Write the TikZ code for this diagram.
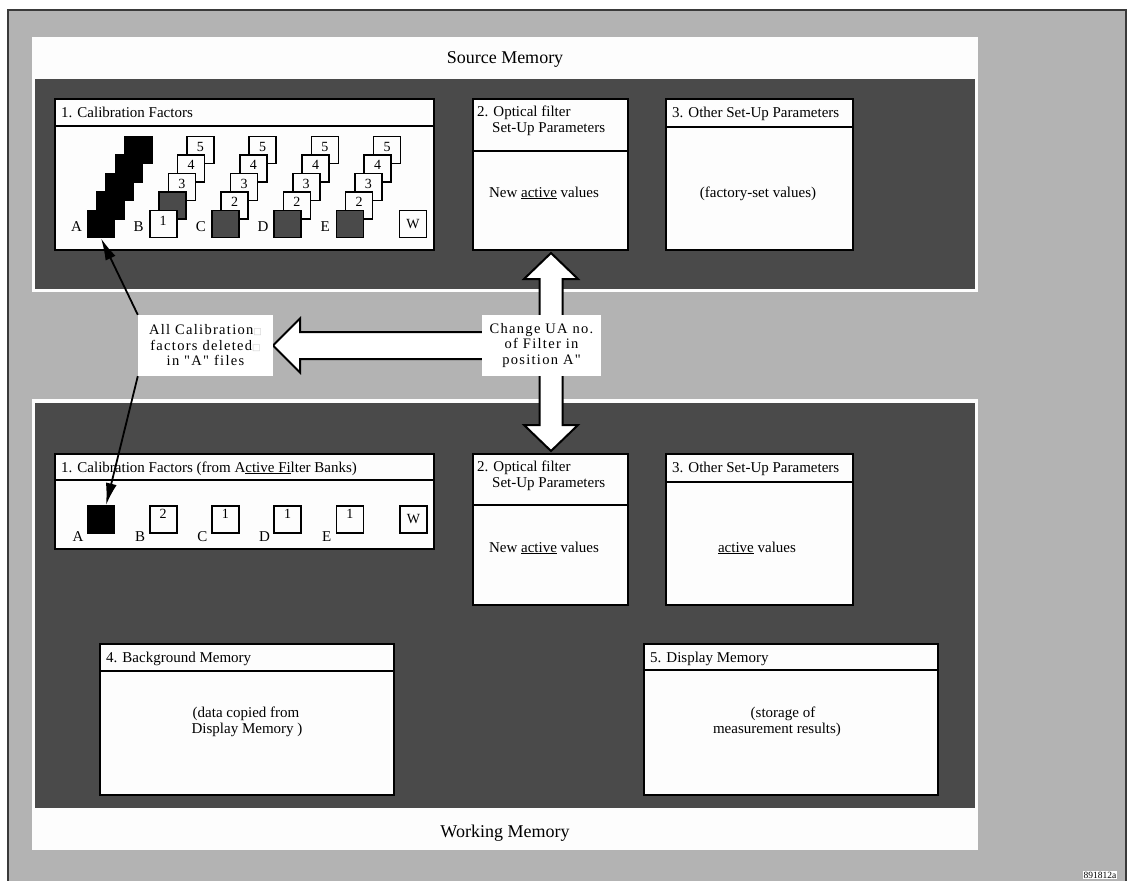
\documentclass[tikz,border=0pt]{standalone}
\usepackage{fontspec}
\setmainfont{Liberation Serif}
\newfontfamily\spacedfont{Liberation Serif}[LetterSpace=9]
\newfontfamily\symfont{DejaVu Sans}
\usetikzlibrary{arrows.meta,calc}
\definecolor{bggray}{HTML}{B3B3B3}
\definecolor{darkpanel}{HTML}{4A4A4A}
\definecolor{offwhite}{HTML}{FDFDFD}
\definecolor{framecol}{HTML}{3A3A3A}
\newcommand\gbox{{\symfont\fontsize{9}{9}\selectfont\color{black!20}□}}
\tikzset{
  panelbox/.style={draw=black, line width=2pt, fill=offwhite, inner sep=0pt, anchor=north west},
  sepline/.style={draw=black, line width=2pt},
  sq/.style={draw=black, line width=1.6pt, fill=offwhite, minimum size=27pt, inner sep=0pt,
             font=\fontsize{14}{14}\selectfont},
  num/.style={anchor=base, inner sep=0pt, font=\fontsize{14}{14}\selectfont},
  letter/.style={anchor=base, inner sep=0pt, font=\fontsize{15}{15}\selectfont},
  ttl/.style={anchor=base west, inner sep=0pt, font=\fontsize{15}{17}\selectfont},
  bodytxt/.style={anchor=base, inner sep=0pt, font=\fontsize{15}{17}\selectfont},
  memtitle/.style={anchor=base, inner sep=0pt, font=\fontsize{18}{20}\selectfont},
  lbl/.style={fill=white, inner sep=0pt, align=center,
              font=\spacedfont\fontsize{14.5}{15.5}\selectfont},
  bigarrow/.style={draw=black, line width=2pt, fill=white, line join=miter},
  thinarrow/.style={draw=black, line width=1.8pt, -{Latex[length=22pt,width=11pt]}},
}
\begin{document}
\begin{tikzpicture}[x=1pt,y=-1pt]
\useasboundingbox (0,0) rectangle (1128,881);
% background frame
\draw[fill=bggray, draw=framecol, line width=1.5pt] (8,10) rectangle (1126,900);
% Source memory
\fill[offwhite] (32,37) rectangle (978,292);
\fill[darkpanel] (35,79) rectangle (975,289);
\node[memtitle] (srctitle) at (505,63) {Source Memory};
% Working memory
\fill[offwhite] (32,399) rectangle (978,850);
\fill[darkpanel] (35,403) rectangle (975,808);
\node[memtitle] (wrktitle) at (505,837) {Working Memory};

% ---------- top boxes ----------
\node[panelbox, minimum width=379pt, minimum height=151pt] (tb1) at (54,98) {};
\draw[sepline] (54,126) -- (433,126);
\node[ttl] (tb1t) at (61,117) {1. Calibration Factors};

\node[panelbox, minimum width=155pt, minimum height=151pt] (tb2) at (472,98) {};
\draw[sepline] (472,151) -- (627,151);
\node[ttl] (tb2t1) at (477,116) {2. Optical filter};
\node[ttl] (tb2t2) at (492,132) {Set-Up Parameters};
\node[bodytxt] (tb2b) at (544,197) {New \underline{active} values};

\node[panelbox, minimum width=187pt, minimum height=151pt] (tb3) at (665,98) {};
\draw[sepline] (665,127) -- (852,127);
\node[ttl] (tb3t) at (672,117) {3. Other Set-Up Parameters};
\node[bodytxt] (tb3b) at (758,197) {(factory-set values)};

% squares column A
\foreach \i in {5,4,3,2,1}
  \node[sq, fill=black] (A\i) at ({101+9.3*(\i-1)},{224-18.5*(\i-1)}) {};
% column B
\foreach \i in {5,4,3}{
  \node[sq] (B\i) at ({163.2+9.3*(\i-1)},{224-18.5*(\i-1)}) {};
  \node[num] at ($(B\i.north)+(0,15.5)$) {\i};
}
\node[sq, fill=darkpanel] (B2) at ({163.2+9.3},{224-18.5}) {};
\node[sq] (B1) at (163.2,224) {};
\node[num] at ($(B1.north)+(0,15.5)$) {1};
% columns C D E
\foreach \c/\x in {C/225.4,D/287.6,E/349.8}{
  \foreach \i in {5,4,3,2}{
    \node[sq] (\c\i) at ({\x+9.3*(\i-1)},{224-18.5*(\i-1)}) {};
    \node[num] at ($(\c\i.north)+(0,15.5)$) {\i};
  }
  \node[sq, fill=darkpanel] (\c1) at (\x,224) {};
}
\node[sq] (tW) at (413,224) {W};
\foreach \c/\x in {A/101,B/163.2,C/225.4,D/287.6,E/349.8}
  \node[letter] (tl\c) at ({\x-24.5},231) {\c};

% ---------- bottom boxes ----------
\node[panelbox, minimum width=379pt, minimum height=95pt] (bb1) at (54,453) {};
\draw[sepline] (54,480) -- (433,480);
\node[ttl] (bb1t) at (61,472) {1. Calibration Factors (from A\underline{ctive Fi}lter Banks)};
\node[sq, fill=black] (bA) at (101,519.5) {};
\foreach \c/\x/\n in {B/163.2/2,C/225.4/1,D/287.6/1,E/349.8/1}{
  \node[sq] (b\c) at (\x,519.5) {};
  \node[num] at ($(b\c.north)+(0,13)$) {\n};
}
\node[sq] (bW) at (413.5,519.5) {W};
\foreach \c/\x in {A/101,B/163.2,C/225.4,D/287.6,E/349.8}
  \node[letter] (bl\c) at ({\x-23},541) {\c};

\node[panelbox, minimum width=155pt, minimum height=151pt] (bb2) at (472,453) {};
\draw[sepline] (472,505) -- (627,505);
\node[ttl] (bb2t1) at (477,471) {2. Optical filter};
\node[ttl] (bb2t2) at (492,487) {Set-Up Parameters};
\node[bodytxt] (bb2b) at (544,552) {New \underline{active} values};

\node[panelbox, minimum width=187pt, minimum height=151pt] (bb3) at (665,453) {};
\draw[sepline] (665,482) -- (852,482);
\node[ttl] (bb3t) at (672,472) {3. Other Set-Up Parameters};
\node[bodytxt] (bb3b) at (757,552) {\underline{active} values};

\node[panelbox, minimum width=294pt, minimum height=151pt] (bb4) at (99,643) {};
\draw[sepline] (99,671) -- (393,671);
\node[ttl] (bb4t) at (106,662) {4. Background Memory};
\node[bodytxt] (bb4b1) at (246,717) {(data copied from};
\node[bodytxt] (bb4b2) at (247,733) {Display Memory )};

\node[panelbox, minimum width=294pt, minimum height=151pt] (bb5) at (643,643) {};
\draw[sepline] (643,670) -- (937,670);
\node[ttl] (bb5t) at (650,662) {5. Display Memory};
\node[bodytxt] (bb5b1) at (783,717) {(storage of};
\node[bodytxt] (bb5b2) at (777,733) {measurement results)};

% ---------- block arrows ----------
\coordinate (vt) at ($(tb2.south)+(0.5,2)$);
\coordinate (vb) at ($(bb2.north)+(0.5,-2)$);
\draw[bigarrow] (vt) -- ($(vt)+(27,26)$) -- ($(vt)+(11.5,26)$) -- ($(vb)+(11.5,-26)$)
  -- ($(vb)+(27,-26)$) -- (vb) -- ($(vb)+(-27,-26)$) -- ($(vb)+(-11.5,-26)$)
  -- ($(vt)+(-11.5,26)$) -- ($(vt)+(-27,26)$) -- cycle;

\coordinate (ht) at (273,345.5);
\draw[bigarrow] (ht) -- ($(ht)+(27,-27)$) -- ($(ht)+(27,-13.5)$) -- ($(ht)+(230,-13.5)$)
  -- ($(ht)+(230,13.5)$) -- ($(ht)+(27,13.5)$) -- ($(ht)+(27,27)$) -- cycle;

% ---------- labels ----------
\node[lbl, minimum width=135pt, minimum height=61pt] (lblA) at (205.5,345.5)
  {All Calibration\gbox\\factors deleted\gbox\\in "A" files};
\node[lbl, minimum width=119pt, minimum height=61pt] (chg) at (541.5,345.5)
  {Change UA no.\\of Filter in\\position A"};

% ---------- thin arrows ----------
\draw[thinarrow] (lblA.north west) -- (A1.south);
\draw[thinarrow] (lblA.south west) -- ([xshift=5pt]bA.north);

% reference number
\node[fill=white, inner sep=1pt, anchor=north, font=\fontsize{9.5}{10}\selectfont] (refno) at (1100,870.5) {891812a};
\end{tikzpicture}
\end{document}
